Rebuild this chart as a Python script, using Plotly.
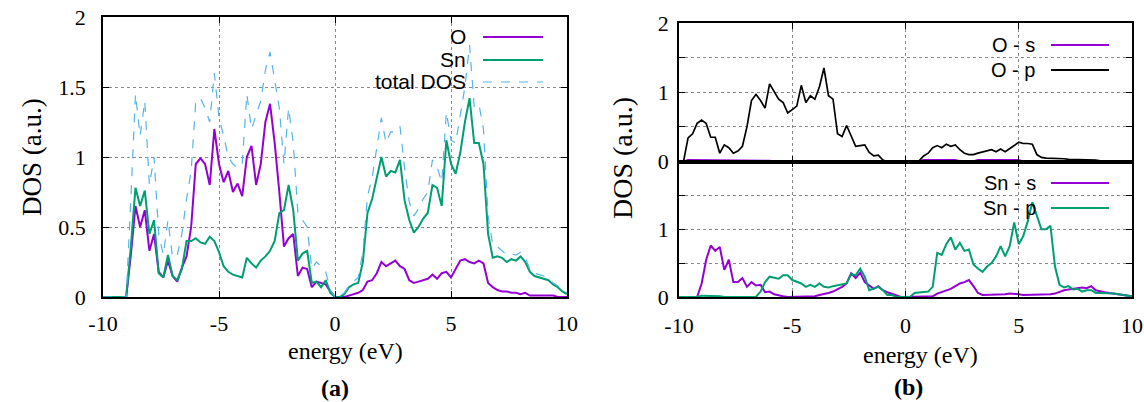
import numpy as np
import plotly.graph_objects as go

W, H = 1144, 402

# energy grid (eV)
energy = np.round(np.linspace(-10, 10, 101), 2)

# ---- panel (a): O, Sn and total DOS ----
o_neg = [0, 0, 0, 0, 0, 0, 0.30, 0.65, 0.50, 0.62, 0.33, 0.45, 0.18, 0.14, 0.26, 0.15,
         0.11, 0.21, 0.29, 0.50, 0.95, 0.99, 0.95, 0.80, 1.20, 0.95, 0.82, 0.90, 0.75, 0.81,
         0.72, 1.00, 1.08, 0.80, 0.95, 1.25, 1.38, 1.10, 0.75, 0.36, 0.42, 0.45, 0.15, 0.21,
         0.20, 0.07, 0.11, 0.10, 0.09, 0.04, 0]
o_pos = [0, 0, 0.01, 0.02, 0.03, 0.05, 0.11, 0.12, 0.17, 0.25, 0.22, 0.24, 0.26, 0.22, 0.20,
         0.12, 0.10, 0.11, 0.12, 0.13, 0.16, 0.13, 0.17, 0.18, 0.14, 0.20, 0.26, 0.27, 0.25, 0.24,
         0.26, 0.24, 0.10, 0.07, 0.05, 0.04, 0.04, 0.03, 0.03, 0.02, 0.03, 0.01, 0.01, 0.01, 0.01,
         0.01, 0.01, 0, 0, 0]
sn_neg = [0, 0, 0, 0, 0, 0, 0.36, 0.78, 0.65, 0.76, 0.45, 0.55, 0.17, 0.14, 0.30, 0.15,
          0.12, 0.20, 0.40, 0.40, 0.42, 0.39, 0.38, 0.43, 0.40, 0.32, 0.22, 0.18, 0.16, 0.15,
          0.14, 0.28, 0.24, 0.21, 0.26, 0.29, 0.33, 0.40, 0.60, 0.62, 0.80, 0.62, 0.26, 0.31,
          0.33, 0.10, 0.11, 0.07, 0.12, 0.03, 0]
sn_pos = [0.0, 0.02, 0.07, 0.09, 0.10, 0.25, 0.60, 0.70, 0.85, 1.00, 0.86, 0.90, 0.89, 0.98, 0.69,
          0.55, 0.46, 0.50, 0.56, 0.60, 0.80, 0.78, 0.65, 1.12, 0.95, 0.88, 1.03, 1.25, 1.42, 1.10,
          1.10, 0.95, 0.45, 0.28, 0.29, 0.28, 0.25, 0.27, 0.26, 0.29, 0.25, 0.18, 0.15, 0.14, 0.13,
          0.12, 0.09, 0.07, 0.04, 0.02]
tot_neg = [0, 0, 0, 0, 0, 0, 0.70, 1.45, 1.15, 1.40, 0.80, 1.00, 0.45, 0.30, 0.55, 0.28,
           0.30, 0.45, 0.70, 0.90, 1.40, 1.42, 1.35, 1.25, 1.60, 1.28, 1.15, 1.00, 0.95, 0.92,
           0.95, 1.45, 1.20, 1.30, 1.40, 1.62, 1.75, 1.55, 1.35, 0.95, 1.35, 1.10, 0.60, 0.55,
           0.50, 0.20, 0.25, 0.22, 0.18, 0.05, 0]
tot_pos = [0.0, 0.03, 0.08, 0.11, 0.14, 0.32, 0.72, 0.85, 1.05, 1.28, 1.10, 1.18, 1.18, 1.22, 0.92,
           0.68, 0.58, 0.63, 0.70, 0.75, 0.98, 0.93, 0.82, 1.32, 1.12, 1.10, 1.30, 1.50, 1.80, 1.36,
           1.38, 1.20, 0.58, 0.37, 0.36, 0.33, 0.30, 0.31, 0.30, 0.32, 0.28, 0.20, 0.17, 0.16, 0.15,
           0.13, 0.10, 0.08, 0.05, 0.03]

# ---- panel (b) top: O-s, O-p ----
os_neg = [0, 0] + [0.02] * 18 + [0.01] + [0] * 30
os_pos = [0, 0, 0] + [0.02] * 8 + [0.005] * 4 + [0.02] * 10 + [0] * 25
op_neg = [0, 0, 0.34, 0.40, 0.55, 0.60, 0.55, 0.35, 0.35, 0.12, 0.24, 0.20, 0.12, 0.15, 0.22,
          0.50, 0.88, 0.97, 0.88, 0.77, 1.12, 1.00, 0.90, 0.85, 0.70, 0.75, 0.80, 1.10, 0.85, 0.95,
          0.90, 1.08, 1.35, 0.95, 0.90, 0.40, 0.36, 0.52, 0.38, 0.22, 0.23, 0.24, 0.13, 0.08, 0.09,
          0.02, 0, 0, 0, 0, 0]
op_pos = [0, 0, 0.01, 0.08, 0.12, 0.20, 0.23, 0.20, 0.25, 0.22, 0.24, 0.17, 0.12, 0.10, 0.10,
          0.12, 0.14, 0.15, 0.17, 0.14, 0.18, 0.14, 0.18, 0.23, 0.28, 0.26, 0.26, 0.25, 0.10, 0.06,
          0.05, 0.05, 0.04, 0.04, 0.04, 0.03, 0.03, 0.02, 0.02, 0.02, 0.02, 0.02, 0.01, 0, 0,
          0, 0, 0, 0, 0]

# ---- panel (b) bottom: Sn-s, Sn-p ----
sns_neg = [0, 0, 0, 0, 0, 0.20, 0.55, 0.76, 0.68, 0.74, 0.40, 0.55, 0.22, 0.22, 0.28, 0.15,
           0.22, 0.17, 0.18, 0.07, 0.08, 0.04, 0.02, 0.01, 0, 0, 0, 0, 0, 0,
           0.01, 0.03, 0.04, 0.06, 0.08, 0.11, 0.15, 0.20, 0.35, 0.28, 0.36, 0.22, 0.17, 0.12,
           0.16, 0.10, 0.07, 0.05, 0.02, 0, 0]
sns_pos = [0, 0, 0.01, 0.01, 0.01, 0.01, 0.05, 0.07, 0.10, 0.12, 0.16, 0.20, 0.22, 0.25, 0.16,
           0.06, 0.03, 0.03, 0.03, 0.04, 0.04, 0.04, 0.05, 0.05, 0.04, 0.03, 0.03, 0.03, 0.03, 0.03,
           0.03, 0.04, 0.05, 0.08, 0.10, 0.11, 0.12, 0.12, 0.14, 0.13, 0.16, 0.10, 0.08, 0.07, 0.06,
           0.05, 0.03, 0.03, 0.02, 0.01]
snp_neg = [0, 0, 0, 0, 0, 0.02, 0.02, 0.02, 0.02, 0.01, 0, 0, 0, 0, 0, 0, 0, 0,
           0.08, 0.22, 0.30, 0.28, 0.27, 0.32, 0.32, 0.25, 0.22, 0.20, 0.15, 0.18, 0.15, 0.20,
           0.15, 0.14, 0.16, 0.17, 0.18, 0.20, 0.34, 0.32, 0.42, 0.30, 0.10, 0.12, 0.15, 0.10,
           0.03, 0.03, 0, 0, 0]
snp_pos = [0.0, 0.06, 0.07, 0.07, 0.08, 0.15, 0.65, 0.62, 0.78, 0.88, 0.70, 0.80, 0.68, 0.70, 0.48,
           0.42, 0.37, 0.45, 0.50, 0.60, 0.75, 0.60, 0.75, 1.10, 0.78, 0.90, 1.12, 1.40, 1.20, 1.00,
           1.00, 1.05, 0.45, 0.18, 0.14, 0.16, 0.11, 0.12, 0.08, 0.10, 0.10, 0.06, 0.06, 0.06, 0.05,
           0.05, 0.04, 0.03, 0.01, 0.01]

dos_O = o_neg + o_pos
dos_Sn = sn_neg + sn_pos
dos_total = tot_neg + tot_pos
dos_Os = os_neg + os_pos
dos_Op = op_neg + op_pos
dos_Sns = sns_neg + sns_pos
dos_Snp = snp_neg + snp_pos

x_ticks = [-10, -5, 0, 5, 10]
y_ticks = [0, 0.5, 1, 1.5, 2]

PURPLE = "#9400D3"
GREEN = "#009E73"
BLUE = "#56B4E9"
BLACK = "#000000"

fig = go.Figure()

def add(x, y, color, xa, ya, dash="solid", width=2.0):
    fig.add_trace(go.Scatter(x=x, y=y, mode="lines", xaxis=xa, yaxis=ya,
                             line=dict(color=color, width=width, dash=dash),
                             showlegend=False, hoverinfo="skip"))

add(energy, dos_O, PURPLE, "x", "y")
add(energy, dos_Sn, GREEN, "x", "y")
add(energy, dos_total, BLUE, "x", "y", dash="dash", width=1.2)
add(energy, dos_Os, PURPLE, "x2", "y2")
add(energy, dos_Op, BLACK, "x2", "y2", width=1.7)
add(energy, dos_Sns, PURPLE, "x3", "y3")
add(energy, dos_Snp, GREEN, "x3", "y3")

def px(p):
    return p / W

def py(p):
    return 1 - p / H

tick_font = dict(family="Liberation Serif", size=22, color="black")
common_x = dict(range=[-10, 10], tickvals=x_ticks, ticktext=[str(v) for v in x_ticks],
                ticks="inside", ticklen=6, tickwidth=1.2, tickcolor="black",
                showline=True, linecolor="black", linewidth=1.5, mirror="ticks",
                showgrid=True, gridcolor="#8a8a8a", griddash="dot", gridwidth=1,
                zeroline=False, tickfont=tick_font, fixedrange=True, automargin=False)
common_y = dict(range=[0, 2], tickvals=y_ticks,
                ticks="inside", ticklen=6, tickwidth=1.2, tickcolor="black",
                showline=True, linecolor="black", linewidth=1.5, mirror="ticks",
                showgrid=True, gridcolor="#8a8a8a", griddash="dot", gridwidth=1,
                zeroline=False, tickfont=tick_font, fixedrange=True, automargin=False)

fig.update_layout(
    width=W, height=H, margin=dict(l=0, r=0, t=0, b=0, autoexpand=False),
    paper_bgcolor="white", plot_bgcolor="white",
    xaxis=dict(common_x, domain=[px(103), px(567)], anchor="y", ticklabelstandoff=6),
    yaxis=dict(common_y, domain=[py(297), py(17)], anchor="x",
               ticktext=["0", "0.5", "1", "1.5", "2"], ticklabelstandoff=11),
    xaxis2=dict(common_x, domain=[px(679), px(1132)], anchor="y2", showticklabels=False),
    yaxis2=dict(common_y, domain=[py(161.5), py(23)], anchor="x2",
                ticktext=["0", "", "1", "", "2"], ticklabelstandoff=4),
    xaxis3=dict(common_x, domain=[px(679), px(1132)], anchor="y3", ticklabelstandoff=8),
    yaxis3=dict(common_y, domain=[py(297), py(161.5)], anchor="x3",
                ticktext=["0", "", "1", "", ""], ticklabelstandoff=4),
)

serif = "Liberation Serif"
sans = "Liberation Sans"
ann = []
ann.append(dict(text="DOS (a.u.)", x=px(32), y=py(157), textangle=-90,
                font=dict(family=serif, size=27, color="black")))
ann.append(dict(text="DOS (a.u.)", x=px(622), y=py(158), textangle=-90,
                font=dict(family=serif, size=28, color="black")))
ann.append(dict(text="energy (eV)", x=px(345), y=py(351),
                font=dict(family=serif, size=24, color="black")))
ann.append(dict(text="energy (eV)", x=px(920), y=py(355),
                font=dict(family=serif, size=24, color="black")))
ann.append(dict(text="<b>(a)</b>", x=px(335), y=py(388),
                font=dict(family=serif, size=24, color="black")))
ann.append(dict(text="<b>(b)</b>", x=px(908), y=py(387),
                font=dict(family=serif, size=24, color="black")))

# legends: label text right-aligned, sample line to the right
legend_items = [
    ("O", PURPLE, "solid", 2.0, 468, 37, 483, 543, 21),
    ("Sn", GREEN, "solid", 2.0, 468, 60, 483, 543, 21),
    ("total DOS", BLUE, "dash", 1.2, 468, 82, 483, 543, 21),
    ("O - s", PURPLE, "solid", 2.0, 1037, 45, 1051, 1109, 20),
    ("O - p", BLACK, "solid", 2.0, 1037, 70, 1051, 1109, 20),
    ("Sn - s", PURPLE, "solid", 2.0, 1038, 183, 1051, 1109, 20),
    ("Sn - p", GREEN, "solid", 2.0, 1038, 208, 1051, 1109, 20),
]
shapes = []
for label, col, dash, lw, tx, ty, l0, l1, fs in legend_items:
    ann.append(dict(text=label, x=px(tx), y=py(ty), xanchor="right",
                    font=dict(family=sans, size=fs, color="black")))
    shapes.append(dict(type="line", xref="paper", yref="paper", x0=px(l0), x1=px(l1),
                       y0=py(ty), y1=py(ty), line=dict(color=col, width=lw, dash=dash)))

for a in ann:
    a.setdefault("xref", "paper")
    a.setdefault("yref", "paper")
    a.setdefault("showarrow", False)
    a.setdefault("xanchor", "center")
    a.setdefault("yanchor", "middle")

fig.update_layout(annotations=ann, shapes=shapes)

fig.write_html("out.html", config={"displayModeBar": False},
               post_script="document.body.style.margin='0';document.body.style.overflow='hidden';")
